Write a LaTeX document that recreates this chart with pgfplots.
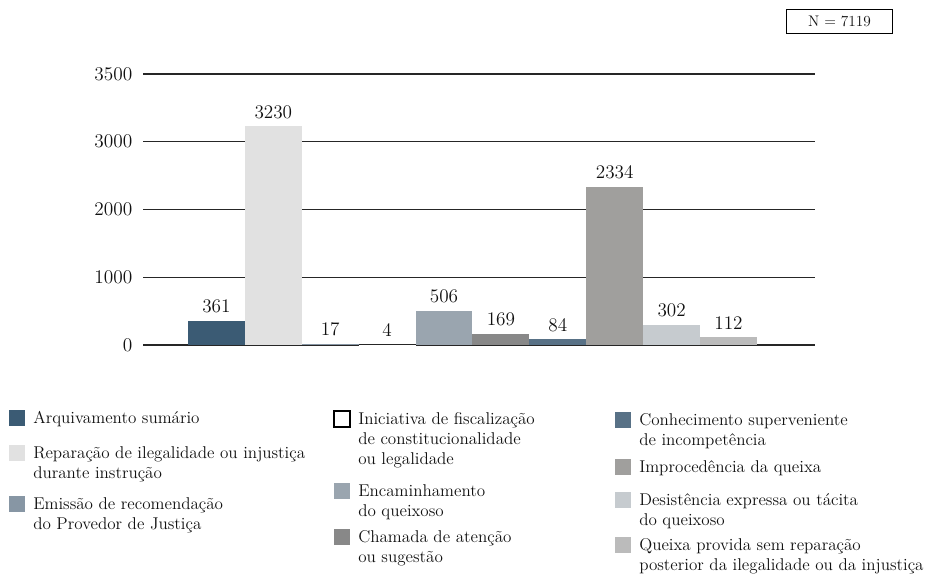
\documentclass[border=0pt]{standalone}
\usepackage{pgfplots}
\pgfplotsset{compat=1.18}

\definecolor{c1}{HTML}{3B5B74}
\definecolor{c2}{HTML}{E1E1E1}
\definecolor{c3}{HTML}{8796A4}
\definecolor{c5}{HTML}{9AA5AF}
\definecolor{c6}{HTML}{888888}
\definecolor{c7}{HTML}{587186}
\definecolor{c8}{HTML}{A09F9D}
\definecolor{c9}{HTML}{C6CBCF}
\definecolor{c10}{HTML}{BBBBBB}
\definecolor{txt}{HTML}{111111}

\newcommand\numfont{\fontsize{14.5}{16}\selectfont}
\newcommand\legfont{\fontsize{12.8}{15}\selectfont}

% legend entry: marker x (px), first baseline y (px), marker style, text
\newcommand\legitem[4]{%
  \path[#3] (#1,#2-13) rectangle (#1+16,#2+3);
  \node[anchor=base west, inner sep=0pt, font=\legfont, text=txt]
    at (#1+24,#2) {\begin{tabular}[t]{@{}l@{}}#4\end{tabular}};
}

\begin{document}
\begin{tikzpicture}
\useasboundingbox (0pt,0pt) rectangle (698.25pt,-432.75pt);

\begin{axis}[
  at={(107.25pt,-258.75pt)}, anchor=south west,
  scale only axis, width=504pt, height=203.25pt,
  xmin=-1.29, xmax=10.52, ymin=0, ymax=4000,
  ytick={0,1000,2000,3000,4000},
  yticklabels={0,1000,2000,3000,3500},
  xtick=\empty,
  ymajorgrids, grid style={black!85, line width=0.8pt},
  axis x line*=bottom, axis y line*=left,
  axis line style={draw=none},
  major tick length=0pt,
  tick label style={font=\numfont, text=txt},
  yticklabel style={xshift=-4.5pt},
  bar width=1,
  nodes near coords,
  nodes near coords style={anchor=base, yshift=6pt, font=\numfont, text=txt},
  /pgf/number format/1000 sep={},
  clip=false,
]
\addplot[ybar, bar shift=0pt, fill=c1, draw=none]  coordinates {(0,361)};
\addplot[ybar, bar shift=0pt, fill=c2, draw=none]  coordinates {(1,3230)};
\addplot[ybar, bar shift=0pt, fill=c3, draw=none]  coordinates {(2,17)};
\addplot[ybar, bar shift=0pt, fill=white, draw=none] coordinates {(3,4)};
\addplot[ybar, bar shift=0pt, fill=c5, draw=none]  coordinates {(4,506)};
\addplot[ybar, bar shift=0pt, fill=c6, draw=none]  coordinates {(5,169)};
\addplot[ybar, bar shift=0pt, fill=c7, draw=none]  coordinates {(6,84)};
\addplot[ybar, bar shift=0pt, fill=c8, draw=none]  coordinates {(7,2334)};
\addplot[ybar, bar shift=0pt, fill=c9, draw=none]  coordinates {(8,302)};
\addplot[ybar, bar shift=0pt, fill=c10, draw=none] coordinates {(9,112)};
\end{axis}

\begin{scope}[x=0.75pt, y=-0.75pt]
  % N box
  \node[draw=black, line width=0.7pt, minimum width=80pt, minimum height=18.5pt,
        inner sep=0pt, font=\fontsize{11.5}{13}\selectfont, text=txt]
    at (839.5,21.5) {N = 7119};

  % column 1
  \legitem{9}{423}{fill=c1}{Arquivamento sumário}
  \legitem{9}{458}{fill=c2}{Reparação de ilegalidade ou injustiça\\durante instrução}
  \legitem{9}{509}{fill=c3}{Emissão de recomendação\\do Provedor de Justiça}
  % column 2
  \legitem{334}{424}{fill=white, draw=black, line width=0.8pt}{Iniciativa de fiscalização\\de constitucionalidade\\ou legalidade}
  \legitem{334}{496}{fill=c5}{Encaminhamento\\do queixoso}
  \legitem{334}{542}{fill=c6}{Chamada de atenção\\ou sugestão}
  % column 3
  \legitem{615}{425}{fill=c7}{Conhecimento superveniente\\de incompetência}
  \legitem{615}{472}{fill=c8}{Improcedência da queixa}
  \legitem{615}{505}{fill=c9}{Desistência expressa ou tácita\\do queixoso}
  \legitem{615}{550}{fill=c10}{Queixa provida sem reparação\\posterior da ilegalidade ou da injustiça}
\end{scope}
\end{tikzpicture}
\end{document}
